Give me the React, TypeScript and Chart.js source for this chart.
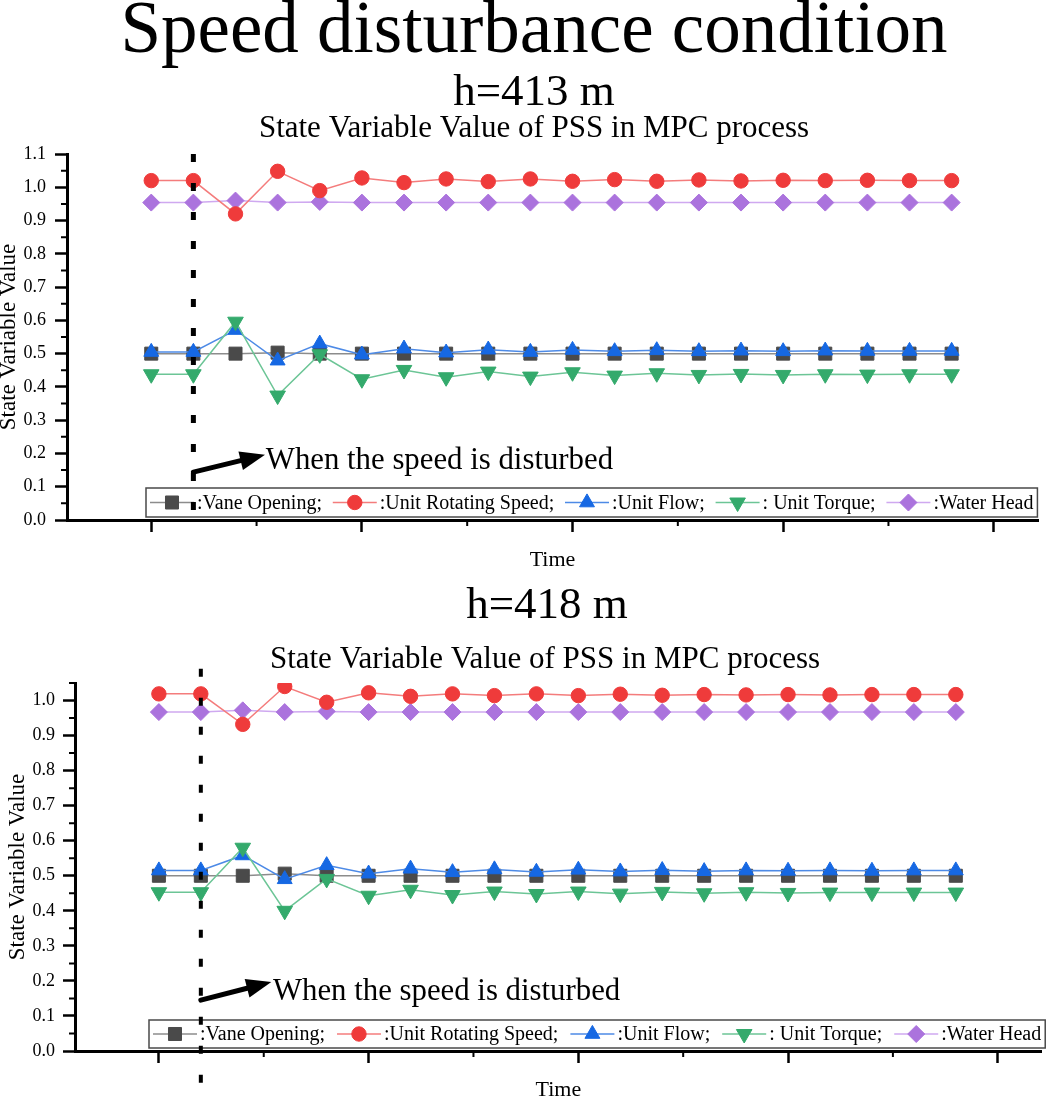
import React, { useEffect, useRef } from "react";
import { Chart, registerables } from "chart.js";
import { drawPoint } from "chart.js/helpers";

Chart.register(...registerables);

const FONT = "'Liberation Serif', 'Times New Roman', serif";

// time steps of the MPC run
const timeSteps = [0, 1, 2, 3, 4, 5, 6, 7, 8, 9, 10, 11, 12, 13, 14, 15, 16, 17, 18, 19];
const xMajorTicks = [0, 5, 10, 15, 20];
const xMinorTicks = [2.5, 7.5, 12.5, 17.5];

const yTicksTop = [0, 0.1, 0.2, 0.3, 0.4, 0.5, 0.6, 0.7, 0.8, 0.9, 1.0, 1.1];
const yMinorTop = [0.05, 0.15, 0.25, 0.35, 0.45, 0.55, 0.65, 0.75, 0.85, 0.95, 1.05];
const yTicksBottom = [0, 0.1, 0.2, 0.3, 0.4, 0.5, 0.6, 0.7, 0.8, 0.9, 1.0];
const yMinorBottom = [0.05, 0.15, 0.25, 0.35, 0.45, 0.55, 0.65, 0.75, 0.85, 0.95, 1.05];

const seriesNames = [":Vane Opening;", ":Unit Rotating Speed;", ":Unit Flow;", ": Unit Torque;", ":Water Head"];

// h = 413 m
const vane413 = [0.5, 0.5, 0.5, 0.503, 0.5, 0.5, 0.5, 0.5, 0.5, 0.5, 0.5, 0.5, 0.5, 0.5, 0.5, 0.5, 0.5, 0.5, 0.5, 0.5];
const speed413 = [1.02, 1.02, 0.92, 1.048, 0.99, 1.028, 1.014, 1.025, 1.017, 1.025, 1.018, 1.023, 1.018, 1.022, 1.019, 1.021, 1.02, 1.021, 1.02, 1.02];
const flow413 = [0.505, 0.505, 0.571, 0.479, 0.53, 0.497, 0.515, 0.503, 0.512, 0.505, 0.511, 0.507, 0.51, 0.507, 0.509, 0.507, 0.509, 0.508, 0.508, 0.508];
const torque413 = [0.438, 0.438, 0.596, 0.374, 0.498, 0.423, 0.451, 0.429, 0.446, 0.431, 0.444, 0.434, 0.441, 0.436, 0.439, 0.436, 0.438, 0.437, 0.438, 0.438];
const water413 = [0.954, 0.954, 0.96, 0.954, 0.956, 0.954, 0.954, 0.954, 0.954, 0.954, 0.954, 0.954, 0.954, 0.954, 0.954, 0.954, 0.954, 0.954, 0.954, 0.954];

// h = 418 m
const vane418 = [0.5, 0.5, 0.5, 0.506, 0.5, 0.5, 0.5, 0.5, 0.5, 0.5, 0.5, 0.5, 0.5, 0.5, 0.5, 0.5, 0.5, 0.5, 0.5, 0.5];
const speed418 = [1.019, 1.019, 0.932, 1.04, 0.995, 1.022, 1.012, 1.019, 1.014, 1.019, 1.014, 1.018, 1.015, 1.017, 1.016, 1.017, 1.016, 1.017, 1.017, 1.017];
const flow418 = [0.515, 0.515, 0.558, 0.49, 0.53, 0.506, 0.52, 0.51, 0.518, 0.511, 0.517, 0.512, 0.516, 0.513, 0.515, 0.514, 0.515, 0.514, 0.515, 0.515];
const torque418 = [0.453, 0.453, 0.58, 0.4, 0.491, 0.443, 0.46, 0.445, 0.455, 0.448, 0.455, 0.449, 0.454, 0.45, 0.453, 0.451, 0.452, 0.452, 0.452, 0.452];
const water418 = [0.967, 0.967, 0.972, 0.967, 0.969, 0.967, 0.967, 0.967, 0.967, 0.967, 0.967, 0.967, 0.967, 0.967, 0.967, 0.967, 0.967, 0.967, 0.967, 0.967];

// marker / line look per series (same order as seriesNames)
const seriesStyles = [
  { marker: "#4a4a4a", line: "#8c8c8c", pointStyle: "rect", radius: 9.2, rotation: 0, order: 3 },
  { marker: "#ef3b3b", line: "#f47c7c", pointStyle: "circle", radius: 7.2, rotation: 0, order: 0 },
  { marker: "#1668e3", line: "#4d8ae6", pointStyle: "triangle", radius: 8.6, rotation: 0, order: 2 },
  { marker: "#34aa6c", line: "#6cc596", pointStyle: "triangle", radius: 9, rotation: 180, order: 1 },
  { marker: "#ab73dd", line: "#cfa9f0", pointStyle: "rectRot", radius: 8.5, rotation: 0, order: 4 },
];

const makeDatasets = (series: number[][]) =>
  series.map((vals, i) => {
    const s = seriesStyles[i];
    return {
      label: seriesNames[i],
      data: timeSteps.map((t, j) => ({ x: t, y: vals[j] })),
      borderColor: s.line,
      borderWidth: 1.5,
      pointBackgroundColor: s.marker,
      pointBorderColor: s.marker,
      pointBorderWidth: 1,
      pointStyle: s.pointStyle,
      pointRadius: s.radius,
      pointRotation: s.rotation,
      tension: 0,
      order: s.order,
    };
  });

const minorTicks = {
  id: "minorTicks",
  afterDraw(chart: any, _args: any, o: any) {
    const { ctx, chartArea } = chart;
    const xs = chart.scales.x;
    const ys = chart.scales.y;
    ctx.save();
    ctx.strokeStyle = "#000";
    ctx.lineWidth = 2;
    ctx.beginPath();
    o.x.forEach((v: number) => {
      const px = xs.getPixelForValue(v);
      ctx.moveTo(px, chartArea.bottom);
      ctx.lineTo(px, chartArea.bottom + 6);
    });
    o.y.forEach((v: number) => {
      const py = ys.getPixelForValue(v);
      ctx.moveTo(chartArea.left, py);
      ctx.lineTo(chartArea.left - 6, py);
    });
    ctx.stroke();
    ctx.restore();
  },
};

const legendBox = {
  id: "legendBox",
  afterDatasetsDraw(chart: any, _args: any, o: any) {
    const ctx = chart.ctx;
    ctx.save();
    ctx.font = `20px ${FONT}`;
    const sample = 44;
    const gapText = 3;
    const gapItem = o.gap;
    const pad = 4;
    const items = chart.data.datasets.map((ds: any) => ({ ds, w: ctx.measureText(ds.label).width }));
    const width =
      pad * 2 +
      items.reduce((s: number, it: any) => s + sample + gapText + it.w, 0) +
      gapItem * (items.length - 1);
    ctx.fillStyle = "#fff";
    ctx.fillRect(o.left, o.top, width, o.height);
    ctx.strokeStyle = "#4a4a4a";
    ctx.lineWidth = 1.5;
    ctx.strokeRect(o.left, o.top, width, o.height);
    let x = o.left + pad;
    const cy = o.top + o.height / 2;
    items.forEach(({ ds, w }: any) => {
      ctx.strokeStyle = ds.borderColor;
      ctx.lineWidth = 1.5;
      ctx.beginPath();
      ctx.moveTo(x, cy);
      ctx.lineTo(x + sample, cy);
      ctx.stroke();
      ctx.fillStyle = ds.pointBackgroundColor;
      ctx.strokeStyle = ds.pointBorderColor;
      ctx.lineWidth = 1;
      drawPoint(
        ctx,
        { pointStyle: ds.pointStyle, rotation: ds.pointRotation, radius: ds.pointRadius, borderWidth: 1 } as any,
        x + sample / 2,
        cy
      );
      ctx.fillStyle = "#000";
      ctx.textAlign = "left";
      ctx.textBaseline = "middle";
      ctx.fillText(ds.label, x + sample + gapText, cy + 1);
      x += sample + gapText + w + gapItem;
    });
    ctx.restore();
  },
};

const disturbMark = {
  id: "disturbMark",
  afterDraw(chart: any, _args: any, o: any) {
    const ctx = chart.ctx;
    const xs = chart.scales.x;
    const ys = chart.scales.y;
    ctx.save();
    // dashed vertical marker
    const px = xs.getPixelForValue(o.lineX);
    ctx.strokeStyle = "#000";
    ctx.lineWidth = o.lineWidth;
    ctx.setLineDash([8, 21]);
    ctx.beginPath();
    ctx.moveTo(px, ys.getPixelForValue(o.lineTop));
    ctx.lineTo(px, ys.getPixelForValue(o.lineBottom));
    ctx.stroke();
    ctx.setLineDash([]);
    // arrow
    const x1 = xs.getPixelForValue(o.arrowFrom[0]);
    const y1 = ys.getPixelForValue(o.arrowFrom[1]);
    const x2 = xs.getPixelForValue(o.arrowTo[0]);
    const y2 = ys.getPixelForValue(o.arrowTo[1]);
    const ang = Math.atan2(y2 - y1, x2 - x1);
    const headLen = 25;
    const headW = 9.5;
    const bx = x2 - headLen * Math.cos(ang);
    const by = y2 - headLen * Math.sin(ang);
    ctx.lineWidth = 5;
    ctx.lineCap = "round";
    ctx.beginPath();
    ctx.moveTo(x1, y1);
    ctx.lineTo(bx + 2 * Math.cos(ang), by + 2 * Math.sin(ang));
    ctx.stroke();
    ctx.fillStyle = "#000";
    ctx.beginPath();
    ctx.moveTo(x2, y2);
    ctx.lineTo(bx + headW * Math.sin(ang), by - headW * Math.cos(ang));
    ctx.lineTo(bx - headW * Math.sin(ang), by + headW * Math.cos(ang));
    ctx.closePath();
    ctx.fill();
    // label
    ctx.font = `30.8px ${FONT}`;
    ctx.textAlign = "left";
    ctx.textBaseline = "alphabetic";
    ctx.fillText(o.text, xs.getPixelForValue(o.textAt[0]), ys.getPixelForValue(o.textAt[1]));
    ctx.restore();
  },
};

const headings = {
  id: "headings",
  afterDraw(chart: any, _args: any, o: any) {
    const ctx = chart.ctx;
    ctx.save();
    ctx.fillStyle = "#000";
    ctx.textAlign = "center";
    ctx.textBaseline = "alphabetic";
    o.lines.forEach((l: any) => {
      ctx.font = `${l.size}px ${FONT}`;
      ctx.fillText(l.text, l.x, l.y);
    });
    ctx.restore();
  },
};

type Panel = {
  series: number[][];
  yTicks: number[];
  yMinor: number[];
  yMax: number;
  layout: { top: number; right: number; bottom: number };
  yWidth: number;
  xHeight: number;
  tickFont: number;
  tickPad: number;
  yTitle: { lineHeight: number; pad: number };
  xTitle: { lineHeight: number; pad: number };
  legend: { left: number; top: number; height: number; gap: number };
  mark: any;
  lines: any[];
};

const buildConfig = (p: Panel): any => ({
  type: "line",
  data: { datasets: makeDatasets(p.series) },
  plugins: [minorTicks, legendBox, disturbMark, headings],
  options: {
    responsive: false,
    animation: false,
    events: [],
    layout: { padding: { left: 0, top: p.layout.top, right: p.layout.right, bottom: p.layout.bottom } },
    plugins: {
      legend: { display: false },
      title: { display: false },
      tooltip: { enabled: false },
      minorTicks: { x: xMinorTicks, y: p.yMinor },
      legendBox: p.legend,
      disturbMark: p.mark,
      headings: { lines: p.lines },
    },
    scales: {
      x: {
        type: "linear",
        min: -2,
        max: 21.05,
        afterBuildTicks: (s: any) => {
          s.ticks = xMajorTicks.map((v) => ({ value: v }));
        },
        afterFit: (s: any) => {
          s.height = p.xHeight;
        },
        ticks: { display: false },
        grid: {
          display: true,
          drawOnChartArea: false,
          drawTicks: true,
          tickLength: 12,
          tickWidth: 2.5,
          tickColor: "#000",
        },
        border: { display: true, color: "#000", width: 3 },
        title: {
          display: true,
          text: "Time",
          color: "#000",
          font: { family: FONT, size: 22, lineHeight: p.xTitle.lineHeight },
          padding: { top: 0, bottom: p.xTitle.pad },
        },
      },
      y: {
        type: "linear",
        min: 0,
        max: p.yMax,
        afterBuildTicks: (s: any) => {
          s.ticks = p.yTicks.map((v) => ({ value: v }));
        },
        afterFit: (s: any) => {
          s.width = p.yWidth;
        },
        ticks: {
          color: "#000",
          padding: p.tickPad,
          font: { family: FONT, size: p.tickFont },
          callback: (v: any) => Number(v).toFixed(1),
        },
        grid: {
          display: true,
          drawOnChartArea: false,
          drawTicks: true,
          tickLength: 12,
          tickWidth: 2.5,
          tickColor: "#000",
        },
        border: { display: true, color: "#000", width: 3 },
        title: {
          display: true,
          text: "State Variable Value",
          color: "#000",
          font: { family: FONT, size: 23, lineHeight: p.yTitle.lineHeight },
          padding: { top: p.yTitle.pad, bottom: 0 },
        },
      },
    },
  },
});

const topPanel: Panel = {
  series: [vane413, speed413, flow413, torque413, water413],
  yTicks: yTicksTop,
  yMinor: yMinorTop,
  yMax: 1.1,
  layout: { top: 154, right: 14, bottom: 5 },
  yWidth: 67,
  xHeight: 55,
  tickFont: 18,
  tickPad: 9,
  yTitle: { lineHeight: 0.8, pad: 0 },
  xTitle: { lineHeight: 1.2, pad: 2 },
  legend: { left: 146, top: 488, height: 29, gap: 10.8 },
  mark: {
    lineX: 1,
    lineTop: 1.1,
    lineBottom: 0.03,
    lineWidth: 5,
    arrowFrom: [1.0, 0.144],
    arrowTo: [2.7, 0.196],
    text: "When the speed is disturbed",
    textAt: [2.72, 0.153],
  },
  lines: [
    { text: "Speed disturbance condition", size: 73, x: 534, y: 52 },
    { text: "h=413 m", size: 45, x: 534, y: 105 },
    { text: "State Variable Value of PSS in MPC process", size: 31, x: 534, y: 137 },
  ],
};

const bottomPanel: Panel = {
  series: [vane418, speed418, flow418, torque418, water418],
  yTicks: yTicksBottom,
  yMinor: yMinorBottom,
  yMax: 1.05,
  layout: { top: 103, right: 0, bottom: 0 },
  yWidth: 75,
  xHeight: 48,
  tickFont: 18,
  tickPad: 8,
  yTitle: { lineHeight: 1.2, pad: 4 },
  xTitle: { lineHeight: 0.77, pad: 0 },
  legend: { left: 149, top: 440, height: 28, gap: 12 },
  mark: {
    lineX: 1,
    lineTop: 1.091,
    lineBottom: -0.131,
    lineWidth: 4,
    arrowFrom: [1.0, 0.145],
    arrowTo: [2.68, 0.197],
    text: "When the speed is disturbed",
    textAt: [2.72, 0.145],
  },
  lines: [
    { text: "h=418 m", size: 45, x: 547, y: 38 },
    { text: "State Variable Value of PSS in MPC process", size: 31, x: 545, y: 88 },
  ],
};

const PanelChart: React.FC<{ panel: Panel; height: number }> = ({ panel, height }) => {
  const canvasRef = useRef<HTMLCanvasElement | null>(null);

  useEffect(() => {
    const ctx = canvasRef.current?.getContext("2d");
    if (!ctx) return;
    const chart = new Chart(ctx, buildConfig(panel));
    return () => chart.destroy();
  }, [panel]);

  return <canvas ref={canvasRef} width={1052} height={height} style={{ display: "block" }} />;
};

const App: React.FC = () => {
  useEffect(() => {
    document.body.style.margin = "0";
  }, []);

  return (
    <div style={{ width: 1052, background: "#fff" }}>
      <PanelChart panel={topPanel} height={580} />
      <PanelChart panel={bottomPanel} height={519} />
    </div>
  );
};

export default App;
